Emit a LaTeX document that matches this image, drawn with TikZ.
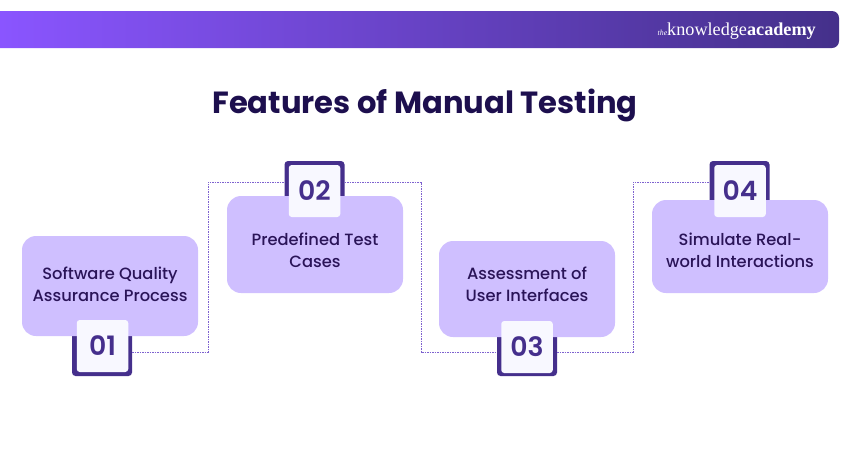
\documentclass[tikz,border=0pt]{standalone}
\usepackage{fontspec}
\setmainfont{Poppins}
\newfontfamily\logofont{Liberation Serif}
\newfontfamily\medfont{Poppins Medium}
\newfontfamily\semifont{Poppins SemiBold}
\definecolor{bannerl}{HTML}{8A55FF}
\definecolor{bannerr}{HTML}{44308A}
\definecolor{ink}{HTML}{1D0F4E}
\definecolor{boxfill}{HTML}{CFBFFF}
\definecolor{tilefill}{HTML}{F8F8FF}
\definecolor{frameink}{HTML}{452F8C}
\definecolor{linkink}{HTML}{7E62CF}
\definecolor{boxink}{HTML}{2A1458}

\begin{document}
\begin{tikzpicture}[x=1pt,y=-1pt,
    box/.style={rectangle,fill=boxfill,rounded corners=14pt,minimum width=176pt,inner sep=0pt},
    boxtext/.style={align=center,text=boxink,font=\fontsize{16.3}{22}\selectfont\medfont},
    frame/.style={rectangle,fill=frameink,rounded corners=3.5pt,minimum width=60pt,inner sep=0pt},
    tile/.style={rectangle,fill=tilefill,rounded corners=3pt,minimum width=51.5pt,minimum height=52pt,
      inner sep=0pt,text=frameink,font=\fontsize{26.7}{30}\selectfont\semifont},
    link/.style={linkink,line width=1pt,dash pattern=on 1.5pt off 1pt}]
    \useasboundingbox (0,0) rectangle (850,450);

    % top banner
    \path[left color=bannerl,right color=bannerr] (0,48) -- (0,11) [rounded corners=7pt] -- (839,11) -- (839,48) [sharp corners] -- cycle;
    \node (logo) [anchor=east,text=white,inner sep=0pt] at (816,31) {\logofont{\fontsize{7.8}{8}\selectfont\itshape the}\fontsize{18.2}{20}\selectfont knowledge\bfseries academy};
    \node (title) [text=ink,font=\fontsize{30.6}{36}\selectfont\bfseries] at (425,105.5) {Features of Manual Testing};

    % corners of the dotted links
    \coordinate (j1) at (208,352);
    \coordinate (j2) at (208,182);
    \coordinate (j3) at (421,182);
    \coordinate (j4) at (421,352);
    \coordinate (j5) at (633,352);
    \coordinate (j6) at (633,182);

    % frames sit behind the boxes
    \node (frame1) [frame,minimum height=50pt] at (102,351) {};
    \node (frame2) [frame,minimum height=50pt] at (314.5,186) {};
    \node (frame3) [frame,minimum height=50pt] at (527,351) {};
    \node (frame4) [frame,minimum height=50pt] at (739.5,186) {};

    \draw[link] (frame1.east |- j1) -- (j1) -- (j2) -- (frame2.west |- j2);
    \draw[link] (frame2.east |- j3) -- (j3) -- (j4) -- (frame3.west |- j4);
    \draw[link] (frame3.east |- j5) -- (j5) -- (j6) -- (frame4.west |- j6);

    \node (box1) [box,minimum height=100pt] at (110,286) {};
    \node (box2) [box,minimum height=97pt] at (315,244.5) {};
    \node (box3) [box,minimum height=96pt] at (527,289) {};
    \node (box4) [box,minimum height=93pt] at (740,246.5) {};

    \node (text1) [boxtext] at (110,284.7) {Software Quality\\Assurance Process};
    \node (text2) [boxtext] at (315,250.5) {Predefined Test\\Cases};
    \node (text3) [boxtext] at (527,284.2) {Assessment of\\User Interfaces};
    \node (text4) [boxtext] at (740,250.5) {Simulate Real-\\world Interactions};

    \node (tile1) [tile] at (102.5,346) {01};
    \node (tile2) [tile] at (314.5,191) {02};
    \node (tile3) [tile] at (527,347) {03};
    \node (tile4) [tile] at (740,191) {04};
  \end{tikzpicture}
\end{document}
